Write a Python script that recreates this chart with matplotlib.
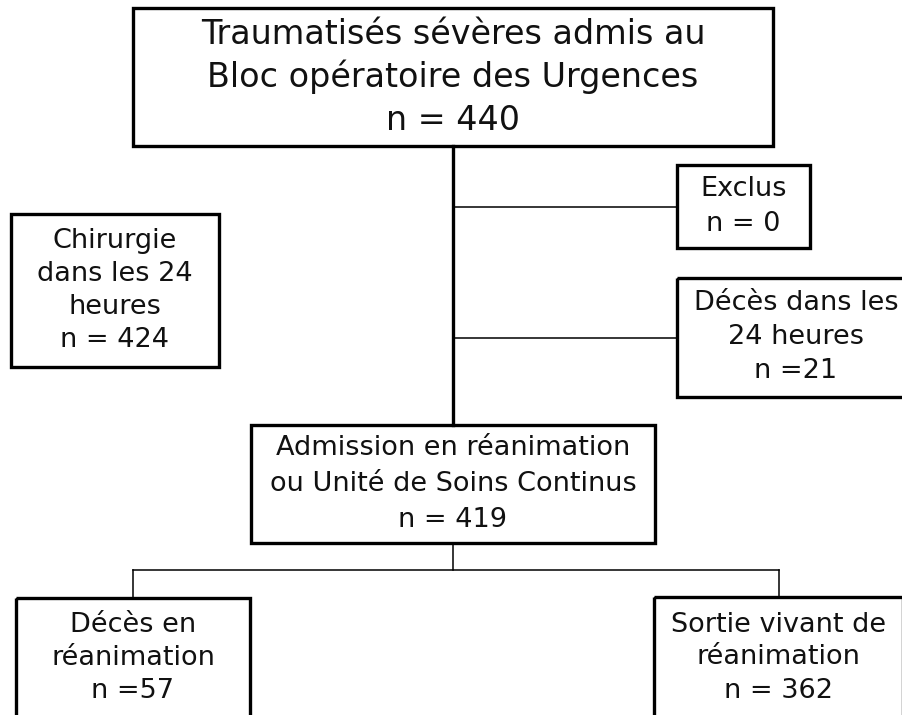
import matplotlib.pyplot as plt
from matplotlib.patches import Rectangle

# Flowchart content
box_names = ['top', 'exclus', 'deces24', 'chir', 'admission', 'deces_rea', 'sortie']
box_lines = [
    ['Traumatisés sévères admis au', 'Bloc opératoire des Urgences'],
    ['Exclus'],
    ['Décès dans les', '24 heures'],
    ['Chirurgie', 'dans les 24', 'heures'],
    ['Admission en réanimation', 'ou Unité de Soins Continus'],
    ['Décès en', 'réanimation'],
    ['Sortie vivant de', 'réanimation'],
]
counts = [440, 0, 21, 424, 419, 57, 362]
count_sep = [' = ', ' = ', ' =', ' = ', ' = ', ' =', ' = ']

# Layout in pixel coordinates (x0, y0, x1, y1)
box_rects = {
    'top': (133, 8, 773, 146),
    'exclus': (677, 165, 810, 248),
    'deces24': (677, 278, 915, 397),
    'chir': (11, 214, 219, 367),
    'admission': (251, 425, 655, 543),
    'deces_rea': (16, 598, 250, 718),
    'sortie': (654, 597, 903, 718),
}
font_pt = {'top': 24, 'exclus': 19.5, 'deces24': 19.5, 'chir': 19.5,
           'admission': 19.5, 'deces_rea': 19.5, 'sortie': 19.5}
line_gap = {'top': 43, 'exclus': 35, 'deces24': 34, 'chir': 33,
            'admission': 36, 'deces_rea': 33, 'sortie': 33}

W, H = 902, 715
fig = plt.figure(figsize=(W / 100, H / 100), dpi=100)
ax = fig.add_axes([0, 0, 1, 1])
ax.set_xlim(0, W)
ax.set_ylim(H, 0)
ax.axis('off')

font = 'DejaVu Sans'

for name, lines, n, sep in zip(box_names, box_lines, counts, count_sep):
    x0, y0, x1, y1 = box_rects[name]
    ax.add_patch(Rectangle((x0, y0), x1 - x0, y1 - y0, fill=False,
                           edgecolor='black', linewidth=2.4, zorder=3))
    all_lines = lines + ['n' + sep + str(n)]
    cx = (x0 + x1) / 2
    cy = (y0 + y1) / 2
    k = len(all_lines)
    for i, t in enumerate(all_lines):
        y = cy + (i - (k - 1) / 2) * line_gap[name]
        ax.text(cx, y, t, ha='center', va='center', fontsize=font_pt[name],
                family=font, color='#111111', zorder=4)

# connectors
mx = 453
ax.plot([mx, mx], [146, 425], color='black', lw=2.4, zorder=2)
ax.plot([mx, 677], [207, 207], color='black', lw=1.1, zorder=2)
ax.plot([mx, 677], [338, 338], color='black', lw=1.1, zorder=2)
ax.plot([mx, mx], [543, 570], color='black', lw=1.1, zorder=2)
ax.plot([133, 779], [570, 570], color='black', lw=1.1, zorder=2)
ax.plot([133, 133], [570, 598], color='black', lw=1.1, zorder=2)
ax.plot([779, 779], [570, 597], color='black', lw=1.1, zorder=2)

fig.savefig('out.png', dpi=100)
